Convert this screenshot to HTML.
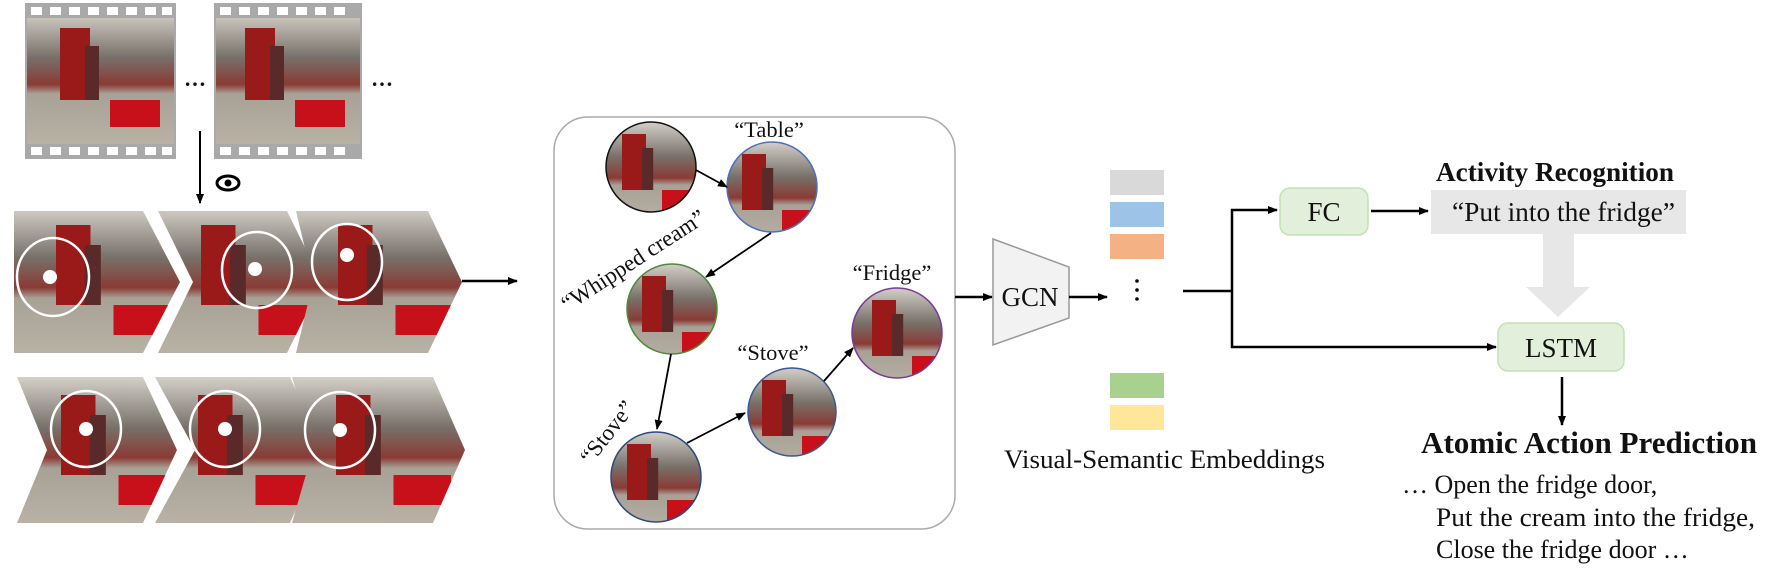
<!DOCTYPE html>
<html><head><meta charset="utf-8"><style>
html,body{margin:0;padding:0;background:#fff;}
svg{display:block;}
text{font-family:"Liberation Serif",serif;fill:#111;}
</style></head><body>
<svg width="1783" height="574" viewBox="0 0 1783 574" xmlns="http://www.w3.org/2000/svg">
<defs>
<marker id="ah" markerWidth="10" markerHeight="8" refX="9" refY="4" orient="auto" markerUnits="userSpaceOnUse"><path d="M0,0 L10,4 L0,8 z" fill="#000"/></marker>
<linearGradient id="kit" x1="0" y1="0" x2="0" y2="1">
<stop offset="0" stop-color="#d8d4cc"/><stop offset="0.35" stop-color="#77716a"/><stop offset="0.55" stop-color="#8a3a34"/><stop offset="0.62" stop-color="#a8a196"/><stop offset="1" stop-color="#b9b2a5"/></linearGradient>
<g id="scene">
<rect x="0" y="0" width="160" height="150" fill="url(#kit)"/>
<rect x="40" y="20" width="30" height="80" fill="#9a1a1a"/>
<rect x="90" y="100" width="50" height="30" fill="#c8101a"/>
<rect x="65" y="40" width="14" height="60" fill="#5a2a2a"/>
</g>
<clipPath id="c1"><circle cx="651" cy="167" r="45"/></clipPath>
<clipPath id="c2"><circle cx="772" cy="187" r="45"/></clipPath>
<clipPath id="c3"><circle cx="672" cy="309" r="45"/></clipPath>
<clipPath id="c4"><circle cx="897" cy="333" r="45"/></clipPath>
<clipPath id="c5"><circle cx="792" cy="412" r="44"/></clipPath>
<clipPath id="c6"><circle cx="656" cy="477" r="45"/></clipPath>
<clipPath id="ch1"><polygon points="14,211 143,211 180,282 143,353 14,353"/></clipPath>
<clipPath id="ch2"><polygon points="158,211 287,211 322,282 287,353 158,353 193,282"/></clipPath>
<clipPath id="ch3"><polygon points="296,211 428,211 462,282 428,353 296,353 313,282"/></clipPath>
<clipPath id="ch4"><polygon points="17,377 143,377 177,450 143,523 17,523 47,450"/></clipPath>
<clipPath id="ch5"><polygon points="155,377 290,377 323,450 290,523 155,523 195,450"/></clipPath>
<clipPath id="ch6"><polygon points="292,377 433,377 465,450 433,523 292,523 313,450"/></clipPath>
<clipPath id="f1"><rect x="27" y="18" width="147" height="126"/></clipPath>
<clipPath id="f2"><rect x="216" y="18" width="144" height="126"/></clipPath>
</defs>

<g>
<rect x="25" y="3" width="151" height="156" fill="#a9a9a9"/>
<g clip-path="url(#f1)"><use href="#scene" transform="translate(20,10) scale(1,0.9)"/></g>
<rect x="214" y="3" width="148" height="156" fill="#a9a9a9"/>
<g clip-path="url(#f2)"><use href="#scene" transform="translate(205,10) scale(1,0.9)"/></g>
<g fill="#fff">
<rect x="31" y="7" width="11" height="8"/><rect x="50" y="7" width="11" height="8"/><rect x="69" y="7" width="11" height="8"/><rect x="88" y="7" width="11" height="8"/><rect x="107" y="7" width="11" height="8"/><rect x="126" y="7" width="11" height="8"/><rect x="145" y="7" width="11" height="8"/><rect x="162" y="7" width="10" height="8"/>
<rect x="31" y="147" width="11" height="8"/><rect x="50" y="147" width="11" height="8"/><rect x="69" y="147" width="11" height="8"/><rect x="88" y="147" width="11" height="8"/><rect x="107" y="147" width="11" height="8"/><rect x="126" y="147" width="11" height="8"/><rect x="145" y="147" width="11" height="8"/><rect x="162" y="147" width="10" height="8"/>
<rect x="220" y="7" width="11" height="8"/><rect x="239" y="7" width="11" height="8"/><rect x="258" y="7" width="11" height="8"/><rect x="277" y="7" width="11" height="8"/><rect x="296" y="7" width="11" height="8"/><rect x="315" y="7" width="11" height="8"/><rect x="334" y="7" width="11" height="8"/>
<rect x="220" y="147" width="11" height="8"/><rect x="239" y="147" width="11" height="8"/><rect x="258" y="147" width="11" height="8"/><rect x="277" y="147" width="11" height="8"/><rect x="296" y="147" width="11" height="8"/><rect x="315" y="147" width="11" height="8"/><rect x="334" y="147" width="11" height="8"/>
</g>
</g>
<text x="184" y="86" font-size="22" font-weight="bold">…</text>
<text x="371" y="86" font-size="22" font-weight="bold">…</text>
<line x1="200" y1="131" x2="200" y2="203" stroke="#000" stroke-width="2" marker-end="url(#ah)"/>
<ellipse cx="228" cy="183" rx="11" ry="7" fill="none" stroke="#000" stroke-width="3"/>
<circle cx="228" cy="183" r="3.5" fill="#000"/>

<g clip-path="url(#ch1)"><use href="#scene" transform="translate(10,205) scale(1.15,1)"/></g>
<g clip-path="url(#ch2)"><use href="#scene" transform="translate(155,205) scale(1.15,1)"/></g>
<g clip-path="url(#ch3)"><use href="#scene" transform="translate(292,205) scale(1.15,1)"/></g>
<g clip-path="url(#ch4)"><use href="#scene" transform="translate(15,375) scale(1.15,1)"/></g>
<g clip-path="url(#ch5)"><use href="#scene" transform="translate(152,375) scale(1.15,1)"/></g>
<g clip-path="url(#ch6)"><use href="#scene" transform="translate(290,375) scale(1.15,1)"/></g>
<g fill="none" stroke="#fff" stroke-width="2.5">
<ellipse cx="53" cy="277" rx="36" ry="39"/><ellipse cx="257" cy="270" rx="35" ry="38"/><ellipse cx="347" cy="262" rx="35" ry="38"/>
<ellipse cx="86" cy="429" rx="35" ry="38"/><ellipse cx="225" cy="429" rx="35" ry="38"/><ellipse cx="340" cy="430" rx="35" ry="38"/>
</g>
<g fill="#fff">
<circle cx="50" cy="277" r="7"/><circle cx="255" cy="269" r="7"/><circle cx="347" cy="255" r="7"/>
<circle cx="86" cy="429" r="7"/><circle cx="225" cy="429" r="7"/><circle cx="340" cy="430" r="7"/>
</g>
<line x1="462" y1="281" x2="517" y2="281" stroke="#000" stroke-width="2.5" marker-end="url(#ah)"/>

<rect x="554" y="117" width="401" height="412" rx="34" fill="#fff" stroke="#aaa" stroke-width="1.5"/>
<g clip-path="url(#c1)"><use href="#scene" transform="translate(590,120) scale(0.8,0.7)"/></g>
<g clip-path="url(#c2)"><use href="#scene" transform="translate(710,140) scale(0.8,0.7)"/></g>
<g clip-path="url(#c3)"><use href="#scene" transform="translate(610,262) scale(0.8,0.7)"/></g>
<g clip-path="url(#c4)"><use href="#scene" transform="translate(840,286) scale(0.8,0.7)"/></g>
<g clip-path="url(#c5)"><use href="#scene" transform="translate(730,366) scale(0.8,0.7)"/></g>
<g clip-path="url(#c6)"><use href="#scene" transform="translate(595,430) scale(0.8,0.7)"/></g>
<circle cx="651" cy="167" r="45" fill="none" stroke="#111" stroke-width="1.5"/>
<circle cx="772" cy="187" r="45" fill="none" stroke="#4a70b8" stroke-width="1.5"/>
<circle cx="672" cy="309" r="45" fill="none" stroke="#4f8a3a" stroke-width="1.5"/>
<circle cx="897" cy="333" r="45" fill="none" stroke="#7a3a9a" stroke-width="1.5"/>
<circle cx="792" cy="412" r="44" fill="none" stroke="#3a5a90" stroke-width="1.5"/>
<circle cx="656" cy="477" r="45" fill="none" stroke="#2a4a80" stroke-width="1.5"/>
<g stroke="#000" stroke-width="1.8" marker-end="url(#ah)">
<line x1="696" y1="170" x2="727" y2="187"/>
<line x1="771" y1="233" x2="706" y2="277"/>
<line x1="671" y1="354" x2="657" y2="429"/>
<line x1="687" y1="443" x2="745" y2="413"/>
<line x1="824" y1="381" x2="853" y2="348"/>
</g>
<text x="769" y="137" font-size="22.5" text-anchor="middle">“Table”</text>
<text x="892" y="280" font-size="22.5" text-anchor="middle">“Fridge”</text>
<text x="773" y="360" font-size="22.5" text-anchor="middle">“Stove”</text>
<text x="633" y="268" font-size="23" text-anchor="middle" transform="rotate(-33 633 260)">“Whipped cream”</text>
<text x="607" y="440" font-size="23" text-anchor="middle" transform="rotate(-52 607 432)">“Stove”</text>

<line x1="955" y1="297" x2="992" y2="297" stroke="#000" stroke-width="2.5" marker-end="url(#ah)"/>
<polygon points="993,239 1069,267 1069,318 993,345" fill="#f2f2f2" stroke="#999" stroke-width="1.5"/>
<text x="1030" y="306" font-size="27" text-anchor="middle">GCN</text>
<line x1="1069" y1="297" x2="1107" y2="297" stroke="#000" stroke-width="2.5" marker-end="url(#ah)"/>
<rect x="1110" y="170" width="54" height="25" fill="#d9d9d9"/>
<rect x="1110" y="202" width="54" height="25" fill="#9dc3e6"/>
<rect x="1110" y="234" width="54" height="25" fill="#f4b183"/>
<rect x="1110" y="373" width="54" height="25" fill="#a9d18e"/>
<rect x="1110" y="405" width="54" height="25" fill="#ffe699"/>
<circle cx="1137" cy="281" r="1.8" fill="#000"/><circle cx="1137" cy="290" r="1.8" fill="#000"/><circle cx="1137" cy="299" r="1.8" fill="#000"/>
<text x="1004" y="468" font-size="26" textLength="321" lengthAdjust="spacingAndGlyphs">Visual-Semantic Embeddings</text>

<g stroke="#000" stroke-width="2.5" fill="none">
<line x1="1183" y1="291" x2="1232" y2="291"/>
<line x1="1232" y1="209" x2="1232" y2="348"/>
<line x1="1231" y1="210" x2="1277" y2="210" marker-end="url(#ah)"/>
<line x1="1231" y1="347" x2="1496" y2="347" marker-end="url(#ah)"/>
<line x1="1371" y1="211" x2="1428" y2="211" marker-end="url(#ah)"/>
<line x1="1562" y1="377" x2="1562" y2="425" marker-end="url(#ah)"/>
</g>
<rect x="1280" y="188" width="88" height="47" rx="10" fill="#e2efda" stroke="#c5e0b4" stroke-width="1.5"/>
<text x="1324" y="221" font-size="27" text-anchor="middle">FC</text>
<text x="1436" y="181" font-size="27" font-weight="bold" textLength="238" lengthAdjust="spacingAndGlyphs">Activity Recognition</text>
<rect x="1431" y="190" width="255" height="44" fill="#e7e7e7"/>
<text x="1452" y="221" font-size="27" textLength="223" lengthAdjust="spacingAndGlyphs">“Put into the fridge”</text>
<polygon points="1543,234 1574,234 1574,287 1590,287 1558,317 1526,287 1543,287" fill="#e7e7e7"/>
<rect x="1498" y="323" width="126" height="48" rx="10" fill="#e2efda" stroke="#c5e0b4" stroke-width="1.5"/>
<text x="1561" y="357" font-size="27" text-anchor="middle">LSTM</text>
<text x="1421" y="453" font-size="31" font-weight="bold" textLength="336" lengthAdjust="spacingAndGlyphs">Atomic Action Prediction</text>
<text x="1402" y="493" font-size="26">… Open the fridge door,</text>
<text x="1436" y="526" font-size="26" textLength="319" lengthAdjust="spacingAndGlyphs">Put the cream into the fridge,</text>
<text x="1436" y="558" font-size="26">Close the fridge door …</text>
</svg>
</body></html>
